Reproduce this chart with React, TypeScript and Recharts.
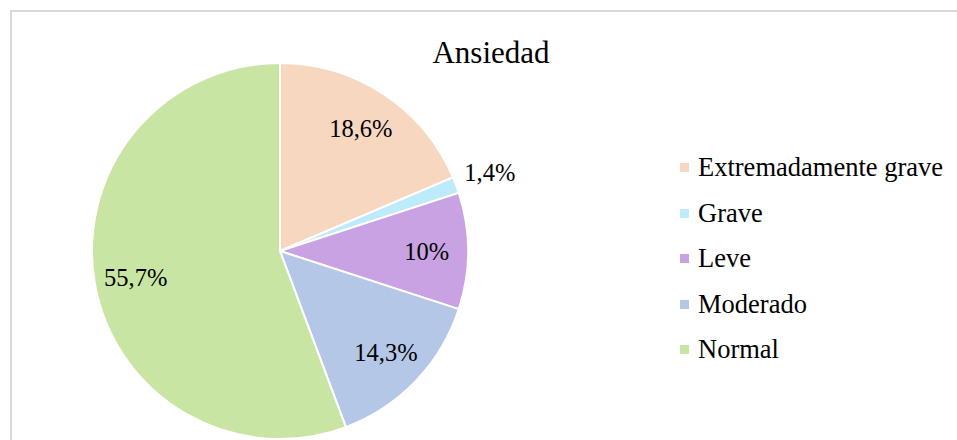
import { PieChart, Pie, Cell, Legend } from "recharts";

const categories = ["Extremadamente grave", "Grave", "Leve", "Moderado", "Normal"];
const values = [18.6, 1.4, 10, 14.3, 55.7];
const labels = ["18,6%", "1,4%", "10%", "14,3%", "55,7%"];
const colors = ["#F8D7C0", "#BDEBFB", "#C8A2E3", "#B4C7E7", "#C9E5A4"];

const data = categories.map((name, i) => ({ name, value: values[i] }));

const FONT = "'Liberation Serif', 'Times New Roman', serif";
const RAD = Math.PI / 180;

function renderLabel({ cx, cy, midAngle, outerRadius, index }: any) {
  // small slices get their label outside the pie
  const outside = values[index] < 5;
  const r = outside ? outerRadius + 36 : outerRadius * 0.78;
  const x = cx + r * Math.cos(-midAngle * RAD);
  const y = cy + r * Math.sin(-midAngle * RAD);
  return (
    <text x={x} y={y} textAnchor="middle" dominantBaseline="central" fill="#000" fontSize={24.5} style={{ fontFamily: FONT }}>
      {labels[index]}
    </text>
  );
}

function LegendContent() {
  return (
    <div style={{ fontFamily: FONT, fontSize: 26.5, color: "#000" }}>
      {categories.map((c, i) => (
        <div key={c} style={{ display: "flex", alignItems: "center", height: 45.5 }}>
          <span style={{ width: 9, height: 9, background: colors[i], marginRight: 9, display: "inline-block" }} />
          <span>{c}</span>
        </div>
      ))}
    </div>
  );
}

export default function App() {
  return (
    <div style={{ position: "absolute", left: 0, top: 0, width: 957, height: 440, overflow: "hidden", background: "#fff" }}>
      <div style={{ position: "absolute", left: 10, top: 10, width: 980, height: 480, border: "2px solid #d9d9d9" }} />
      <div style={{ position: "absolute", left: 0, width: 982, top: 33, textAlign: "center", fontFamily: FONT, fontSize: 31, color: "#000", lineHeight: "40px" }}>
        Ansiedad
      </div>
      <div style={{ position: "absolute", left: 0, top: 0 }}>
        <PieChart width={957} height={440} margin={{ top: 0, right: 0, bottom: 0, left: 0 }}>
          <Pie
            data={data}
            dataKey="value"
            nameKey="name"
            cx={280}
            cy={251}
            outerRadius={188}
            startAngle={90}
            endAngle={-270}
            stroke="#fff"
            strokeWidth={2}
            label={renderLabel}
            labelLine={false}
            isAnimationActive={false}
          >
            {data.map((d, i) => (
              <Cell key={d.name} fill={colors[i]} />
            ))}
          </Pie>
          <Legend content={<LegendContent />} wrapperStyle={{ left: 680, top: 145, width: 277 }} />
        </PieChart>
      </div>
    </div>
  );
}
